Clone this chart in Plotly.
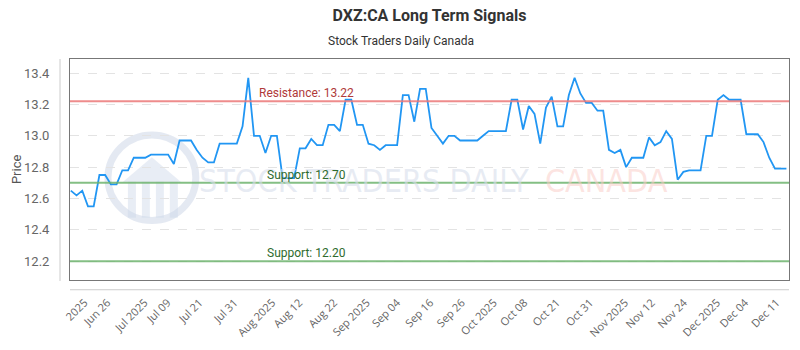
import plotly.graph_objects as go

# ---------------- data ----------------
prices = [
    12.65, 12.62, 12.65, 12.55, 12.55, 12.75, 12.75, 12.69, 12.69, 12.78,
    12.78, 12.86, 12.86, 12.86, 12.88, 12.88, 12.88, 12.88, 12.82, 12.97,
    12.97, 12.97, 12.91, 12.86, 12.83, 12.83, 12.95, 12.95, 12.95, 12.95,
    13.06, 13.37, 13.00, 13.00, 12.89, 13.00, 13.00, 12.73, 12.73, 12.73,
    12.92, 12.92, 12.98, 12.94, 12.94, 13.07, 13.07, 13.03, 13.23, 13.23,
    13.07, 13.07, 12.95, 12.94, 12.91, 12.94, 12.94, 12.94, 13.26, 13.26,
    13.09, 13.30, 13.30, 13.05, 13.00, 12.95, 13.00, 13.00, 12.97, 12.97,
    12.97, 12.97, 13.00, 13.03, 13.03, 13.03, 13.03, 13.23, 13.23, 13.04,
    13.19, 13.14, 12.95, 13.18, 13.25, 13.06, 13.06, 13.26, 13.37, 13.27,
    13.21, 13.21, 13.16, 13.16, 12.91, 12.89, 12.91, 12.80, 12.86, 12.86,
    12.86, 12.99, 12.94, 12.96, 13.03, 12.98, 12.72, 12.77, 12.78, 12.78,
    12.78, 13.00, 13.00, 13.23, 13.26, 13.23, 13.23, 13.23, 13.01, 13.01,
    13.01, 12.96, 12.86, 12.79, 12.79, 12.79,
]
x_index = list(range(len(prices)))

tick_labels = ["2025", "Jun 26", "Jul 2025", "Jul 09", "Jul 21", "Jul 31",
               "Aug 2025", "Aug 12", "Aug 22", "Sep 2025", "Sep 04", "Sep 16",
               "Sep 26", "Oct 2025", "Oct 08", "Oct 21", "Oct 31", "Nov 2025",
               "Nov 12", "Nov 24", "Dec 2025", "Dec 04", "Dec 11"]
tick_positions = [2.4, 6.4, 12.9, 16.9, 22.5, 28.6, 35.2, 39.9, 46.0, 51.7,
                  57.0, 62.8, 68.3, 73.9, 79.2, 84.9, 90.7, 96.8, 101.5,
                  107.1, 112.9, 117.8, 123.3]

resistance = [13.22]
supports = [12.70, 12.20]
y_ticks = [12.2, 12.4, 12.6, 12.8, 13.0, 13.2, 13.4]

# ---------------- figure ----------------
W, H = 800, 350
ML, MR, MT, MB = 70, 10, 59, 64
PW, PH = W - ML - MR, H - MT - MB


def px_x(p):
    return (p - ML) / PW


def px_y(p):
    return (H - MB - p) / PH


fig = go.Figure()
fig.add_trace(go.Scatter(
    x=x_index, y=prices, mode="lines",
    line=dict(color="#2196f3", width=1.8),
    hoverinfo="skip", showlegend=False,
))

shapes = []
annotations = []

# watermark logo
shapes.append(dict(type="circle", xref="paper", yref="paper", layer="below",
                   x0=px_x(108), x1=px_x(196), y0=px_y(225), y1=px_y(137),
                   line=dict(color="rgba(205,215,232,0.55)", width=7)))
for bx in [128, 142, 156, 170]:
    shapes.append(dict(type="rect", xref="paper", yref="paper", layer="below",
                       x0=px_x(bx), x1=px_x(bx + 8), y0=px_y(222), y1=px_y(185),
                       fillcolor="rgba(205,215,232,0.45)", line=dict(width=0)))
shapes.append(dict(type="path", xref="paper", yref="paper", layer="below",
                   path=f"M {px_x(122)},{px_y(186)} L {px_x(152)},{px_y(160)} L {px_x(182)},{px_y(186)} Z",
                   fillcolor="rgba(205,215,232,0.45)", line=dict(width=0)))

annotations.append(dict(text="STOCK TRADERS DAILY", xref="paper", yref="paper",
                        x=px_x(364), y=px_y(184), xanchor="center", yanchor="middle",
                        showarrow=False,
                        font=dict(family="DejaVu Sans Condensed, Roboto", size=32,
                                  color="rgba(215,222,235,0.6)")))
annotations.append(dict(text="CANADA", xref="paper", yref="paper",
                        x=px_x(607), y=px_y(184), xanchor="center", yanchor="middle",
                        showarrow=False,
                        font=dict(family="DejaVu Sans Condensed, Roboto", size=32,
                                  color="rgba(250,205,200,0.55)")))

# resistance / support lines
for r in resistance:
    shapes.append(dict(type="line", xref="paper", yref="y", x0=0, x1=1, y0=r, y1=r,
                       line=dict(color="rgba(235,120,120,0.85)", width=2)))
    annotations.append(dict(text=f"Resistance: {r:.2f}", xref="paper", yref="y",
                            x=px_x(257), y=r, xanchor="left", yanchor="bottom",
                            yshift=-1, showarrow=False,
                            font=dict(family="Roboto", size=12, color="#b03a3a")))
for s in supports:
    shapes.append(dict(type="line", xref="paper", yref="y", x0=0, x1=1, y0=s, y1=s,
                       line=dict(color="rgba(110,180,110,0.85)", width=2)))
    annotations.append(dict(text=f"Support: {s:.2f}", xref="paper", yref="y",
                            x=px_x(265), y=s, xanchor="left", yanchor="bottom",
                            yshift=-1, showarrow=False,
                            font=dict(family="Roboto", size=12, color="#2e6b2e")))

# offset axis lines
shapes.append(dict(type="line", xref="paper", yref="paper",
                   x0=px_x(60), x1=px_x(60), y0=px_y(59), y1=px_y(287),
                   line=dict(color="#cccccc", width=1)))
shapes.append(dict(type="line", xref="paper", yref="paper",
                   x0=px_x(70), x1=px_x(790), y0=px_y(296), y1=px_y(296),
                   line=dict(color="#cccccc", width=1)))

# y-axis title
annotations.append(dict(text="Price", xref="paper", yref="paper",
                        x=px_x(16), y=px_y(172), xanchor="center", yanchor="middle",
                        textangle=-90, showarrow=False,
                        font=dict(family="Roboto", size=13, color="#555555")))

fig.update_layout(
    width=W, height=H,
    margin=dict(l=ML, r=MR, t=MT, b=MB, pad=0),
    paper_bgcolor="white", plot_bgcolor="white",
    font=dict(family="Roboto", color="#666666"),
    title=dict(text="<b>DXZ:CA Long Term Signals</b>", x=0.5, xref="paper",
               xanchor="center", y=1 - 15 / H, yanchor="middle",
               font=dict(family="Roboto", size=16, color="#333333")),
    shapes=shapes, annotations=annotations + [
        dict(text="Stock Traders Daily Canada", xref="paper", yref="paper",
             x=px_x(401), y=px_y(40), xanchor="center", yanchor="middle",
             showarrow=False, font=dict(family="Roboto", size=12, color="#333333")),
    ],
    xaxis=dict(range=[-0.14, 125.45], tickmode="array", tickvals=tick_positions,
               ticktext=tick_labels, tickangle=-45, showgrid=False, zeroline=False,
               showline=True, mirror=True, linecolor="#777777", linewidth=1,
               ticks="", ticklabelstandoff=11,
               tickfont=dict(family="Open Sans", size=11, color="#666666")),
    yaxis=dict(range=[12.08, 13.49], tickmode="array", tickvals=y_ticks,
               tickformat=".1f", showgrid=True, gridcolor="#e3e3e3", griddash="dash",
               gridwidth=1, zeroline=False, showline=True, mirror=True,
               linecolor="#777777", linewidth=1, ticks="", ticklabelstandoff=17,
               tickfont=dict(family="Roboto", size=13, color="#666666")),
)

fig.write_html("out.html")
